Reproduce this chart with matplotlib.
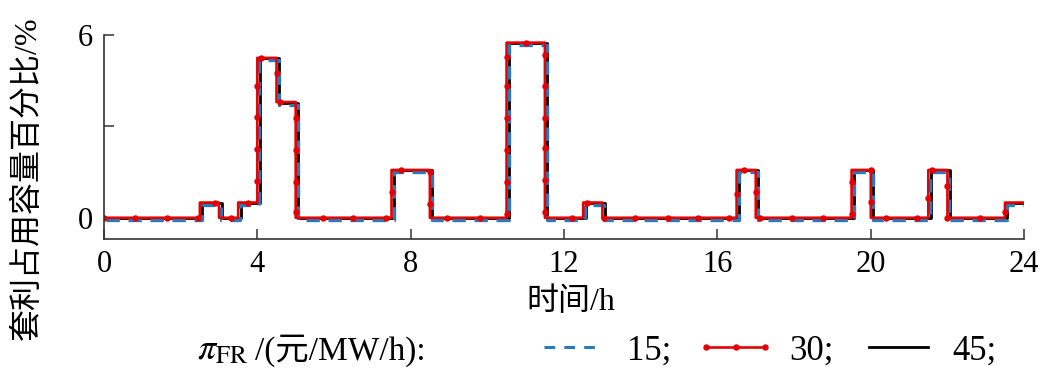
import numpy as np
import matplotlib.pyplot as plt
import matplotlib.transforms as mtransforms
from matplotlib.lines import Line2D

plt.rcParams['font.family'] = ['Liberation Serif', 'Noto Sans CJK SC']
plt.rcParams['mathtext.fontset'] = 'stix'

# half-hour arbitrage capacity share (%), same for all three prices
t_edges = np.arange(0, 24.5, 0.5)
share = [0, 0, 0, 0, 0, 0.5, 0, 0.5, 5.25, 3.8,
         0, 0, 0, 0, 0, 1.57, 1.57, 0, 0, 0,
         0, 5.75, 5.75, 0, 0, 0.5, 0, 0, 0, 0,
         0, 0, 0, 1.57, 0, 0, 0, 0, 0, 1.57,
         0, 0, 0, 1.57, 0, 0, 0, 0.5]
prices = ['15;', '30;', '45;']
x_ticks = [0, 4, 8, 12, 16, 20, 24]


def stair_xy(edges, vals):
    v = np.asarray(vals, dtype=float)
    xs = np.repeat(edges, 2)[1:-1]
    ys = np.repeat(v, 2)
    return xs, ys


def dense_path(ax, xs, ys, px=2.0):
    # split every segment of the drawn line into small pieces so that
    # markevery can put markers anywhere along it (also on the risers)
    d = ax.transData.transform(np.column_stack([xs, ys]))
    out_x, out_y = [xs[0]], [ys[0]]
    for i in range(len(xs) - 1):
        L = np.hypot(*(d[i + 1] - d[i]))
        n = max(1, int(np.ceil(L / px)))
        f = np.linspace(0, 1, n + 1)[1:]
        out_x.extend(xs[i] + f * (xs[i + 1] - xs[i]))
        out_y.extend(ys[i] + f * (ys[i + 1] - ys[i]))
    return np.array(out_x), np.array(out_y)


fig = plt.figure(figsize=(10.58, 3.85), dpi=100)
ax = fig.add_axes([0.0983, 0.379, 0.8697, 0.530])
ax.set_xlim(0, 24)
ax.set_ylim(-0.7, 6)

xs, ys = stair_xy(t_edges, share)
mx, my = dense_path(ax, xs, ys)

black_tr = mtransforms.offset_copy(ax.transData, fig=fig, x=2.5, y=-0.5, units='dots')
blue_tr = mtransforms.offset_copy(ax.transData, fig=fig, x=2.0, y=-2.5, units='dots')

ax.plot(xs, ys, color='black', lw=2.0, transform=black_tr)
ax.plot(xs, ys, color='#2a7ab9', lw=2.4, ls=(0, (4, 2.6)), transform=blue_tr)
ax.plot(mx, my, color='#e60000', lw=1.9, marker='o', ms=3.6,
        markevery=0.0335)

ax.set_xticks(x_ticks)
ax.set_yticks([0, 3, 6])
ax.set_yticklabels(['0', '', '6'])
for s in ['top', 'right']:
    ax.spines[s].set_visible(False)
for s in ['left', 'bottom']:
    ax.spines[s].set_color('#333333')
    ax.spines[s].set_linewidth(1.2)
ax.tick_params(direction='in', length=7, width=1.1, color='#333333',
               labelsize=22, pad=8)

ax.set_xlabel('时间/h', fontsize=23)
ax.xaxis.set_label_coords(0.507, -0.235)
ax.set_ylabel('套利占用容量百分比/%', fontsize=23)
ax.yaxis.set_label_coords(-0.066, 0.30)

fig.text(0.186, 0.090, r'$\pi_{\mathrm{FR}}$', fontsize=26, va='center')
fig.text(0.241, 0.090, '/(元/MW/h):', fontsize=24, va='center')

handles = [
    Line2D([], [], color='#2a7ab9', lw=2.2, ls=(0, (3.5, 3))),
    Line2D([], [], color='#e60000', lw=1.9, marker='o', ms=3.6),
    Line2D([], [], color='black', lw=2.0),
]
fig.legend(handles, prices, loc='center', bbox_to_anchor=(0.723, 0.088),
           ncol=3, frameon=False, fontsize=25, handlelength=2.3,
           handletextpad=0.4, columnspacing=0.7, numpoints=3)

fig.savefig('out.png', dpi=100)
